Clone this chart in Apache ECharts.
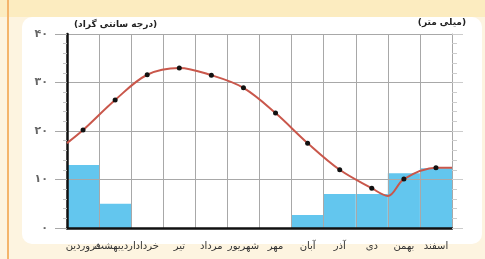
<!DOCTYPE html>
<html>
<head>
<meta charset="utf-8">
<script src="https://cdn.jsdelivr.net/npm/echarts@6/dist/echarts.min.js"></script>
<style>
  html, body { margin: 0; padding: 0; }
  body { width: 485px; height: 259px; background: #fdf4e0; position: relative; overflow: hidden; }
  .band { position: absolute; left: 0; top: 0; width: 485px; height: 17px; background: #fcecc0; }
  .rule { position: absolute; left: 7px; top: 0; width: 2px; height: 259px; background: #f4b56c; }
  .panel { position: absolute; left: 22px; top: 17px; width: 460px; height: 227px; background: #fff; border-radius: 10px; }
  #chart { position: absolute; left: 0; top: 0; width: 485px; height: 259px; }
</style>
</head>
<body>
<div class="band"></div>
<div class="rule"></div>
<div class="panel"></div>
<div id="chart"></div>
<script>
// months, فروردین -> اسفند
const months = ['فروردین', 'اردیبهشت', 'خرداد', 'تیر', 'مرداد', 'شهریور', 'مهر', 'آبان', 'آذر', 'دی', 'بهمن', 'اسفند'];
// mean temperature (°C), one per month
const temperature = [20.2, 26.4, 31.6, 33.0, 31.5, 28.9, 23.7, 17.5, 12.0, 8.2, 10.1, 12.4];
// rainfall (mm), one per month
const rainfall = [13.0, 5.0, 0, 0, 0, 0, 0, 2.7, 7.0, 7.0, 11.3, 12.3];
// where the drawn curve meets the left and right edges, and its low point at the end of دی
const curveStart = 17.5;
const curveEnd = 12.4;
const winterLow = 6.6;
const yTicks = [0, 10, 20, 30, 40];

const faDigits = '۰۱۲۳۴۵۶۷۸۹';
const toFa = v => String(v).replace(/\d/g, d => faDigits[d]);

// curve vertices on a 0..12 month scale, dots only at the month middles
const curve = [{value: [0, curveStart], symbol: 'none'}];
temperature.forEach((t, i) => {
  curve.push({value: [i + 0.5, t]});
  if (i === 9) curve.push({value: [10, winterLow], symbol: 'none'});
});
curve.push({value: [12, curveEnd], symbol: 'none'});

const grey = '#a8a8a8';
const chart = echarts.init(document.getElementById('chart'));
chart.setOption({
  animation: false,
  textStyle: {fontFamily: 'DejaVu Sans'},
  title: [
    {text: '(درجه سانتی گراد)', left: 69, top: 15, textStyle: {fontSize: 9, fontWeight: 'bold', color: '#222'}},
    {text: '(میلی متر)', right: 14, top: 13, textStyle: {fontSize: 9, fontWeight: 'bold', color: '#222'}}
  ],
  grid: {left: 67, right: 33, top: 34, bottom: 31},
  xAxis: [
    {
      type: 'category',
      data: months,
      z: 3,
      axisLine: {lineStyle: {color: '#111', width: 2.5}},
      axisTick: {length: 10, lineStyle: {color: grey}},
      splitLine: {show: true, lineStyle: {color: grey, width: 1}},
      axisLabel: {fontSize: 10, color: '#333', margin: 13, interval: 0}
    },
    {type: 'value', min: 0, max: 12, show: false}
  ],
  yAxis: [
    {
      type: 'value',
      min: 0, max: 40, interval: 10,
      z: 3,
      axisLine: {show: true, lineStyle: {color: '#111', width: 2.5}},
      axisTick: {show: true, length: 12, lineStyle: {color: grey}},
      minorTick: {show: true, splitNumber: 5, length: 4, lineStyle: {color: '#c4c4c4'}},
      splitLine: {show: true, lineStyle: {color: grey, width: 1}},
      axisLabel: {
        formatter: v => yTicks.includes(v) ? toFa(v) : '',
        fontSize: 11, fontWeight: 'bold', color: '#666', margin: 19
      }
    },
    {
      type: 'value',
      min: 0, max: 40, interval: 10,
      position: 'right',
      z: 3,
      axisLine: {show: true, lineStyle: {color: grey, width: 1}},
      axisTick: {show: true, length: 11, lineStyle: {color: '#cccccc'}},
      minorTick: {show: true, splitNumber: 5, length: 5, lineStyle: {color: '#cccccc'}},
      splitLine: {show: false},
      axisLabel: {show: false}
    }
  ],
  series: [
    {
      name: 'rainfall',
      type: 'bar',
      data: rainfall,
      xAxisIndex: 0,
      yAxisIndex: 1,
      barCategoryGap: '0%',
      z: 2,
      itemStyle: {color: '#63c6ee'}
    },
    {
      name: 'temperature',
      type: 'line',
      data: curve,
      xAxisIndex: 1,
      yAxisIndex: 0,
      smooth: 0.35,
      z: 5,
      symbol: 'circle',
      symbolSize: 5,
      itemStyle: {color: '#111'},
      lineStyle: {color: '#c9574b', width: 2}
    }
  ]
});
</script>
</body>
</html>
